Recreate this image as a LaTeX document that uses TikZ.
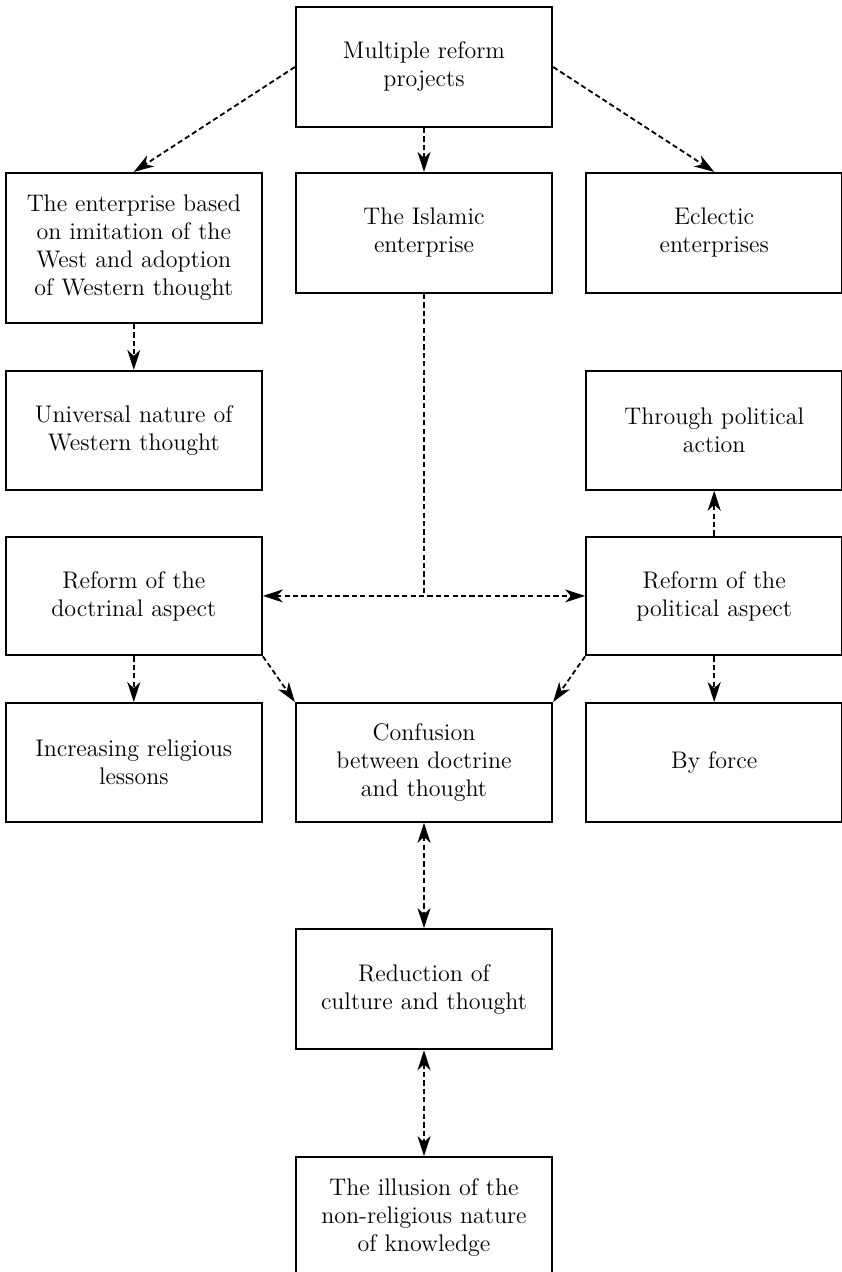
\documentclass[tikz,border=0pt]{standalone}
\usepackage{tikz}
\usetikzlibrary{arrows.meta,positioning}

\begin{document}
\begin{tikzpicture}[
  box/.style={draw,line width=1.1pt,minimum width=128pt,minimum height=60pt,
    text width=120pt,align=center,inner sep=2pt,font=\fontsize{12}{14}\selectfont},
  mid/.style={box,minimum height=59.3pt},
  arr/.style={-{Stealth[length=10pt,width=6.5pt,inset=3pt]},line width=.9pt,
    dash pattern=on 2.6pt off 1.6pt},
  both/.style={arr,{Stealth[length=10pt,width=6.5pt,inset=3pt]}-{Stealth[length=10pt,width=6.5pt,inset=3pt]}},
  link/.style={line width=.9pt,dash pattern=on 2.6pt off 1.6pt}
]
\useasboundingbox (0,0) rectangle (420.5pt,-636pt);
\node[box] (multi) at (212pt,-33.5pt) {Multiple reform\\projects};
\node[box,below=21.9pt of multi] (islamic) {The Islamic\\enterprise};
\node[box,minimum height=75pt,anchor=north east] (west)
  at ([xshift=-16pt]islamic.north west)
  {The enterprise based\\on imitation of the\\West and adoption\\of Western thought};
\node[box,right=16pt of islamic] (eclectic) {Eclectic\\enterprises};
\node[mid,below=22.9pt of west] (universal) {Universal nature of\\Western thought};
\node[mid] (action) at (universal -| eclectic) {Through political\\action};
\node[mid,below=22.4pt of universal] (doctrinal) {Reform of the\\doctrinal aspect};
\node[mid,below=22.4pt of action] (political) {Reform of the\\political aspect};
\node[mid,below=22.9pt of doctrinal] (lessons) {Increasing religious\\lessons};
\node[mid,below=22.9pt of political] (force) {By force};
\node[mid] (confusion) at (lessons -| islamic)
  {Confusion\\between doctrine\\and thought};
\node[box,below=52.6pt of confusion] (reduction) {Reduction of\\culture and thought};
\node[box,below=52.9pt of reduction] (illusion)
  {The illusion of the\\non-religious nature\\of knowledge};
\coordinate (meet) at (islamic |- doctrinal);
\draw[arr] (multi.west) -- (west.north); \draw[arr] (multi) -- (islamic);
\draw[arr] (multi.east) -- (eclectic.north);
\draw[arr] (west) -- (universal);
\draw[link] (islamic) -- (meet);
\draw[both] (doctrinal) -- (political);
\draw[arr] (political) -- (action);
\draw[arr] (doctrinal) -- (lessons);
\draw[arr] (doctrinal.south east) -- (confusion.north west);
\draw[arr] (political.south west) -- (confusion.north east);
\draw[arr] (political) -- (force);
\draw[both] (confusion) -- (reduction); \draw[both] (reduction) -- (illusion);
\end{tikzpicture}
\end{document}
